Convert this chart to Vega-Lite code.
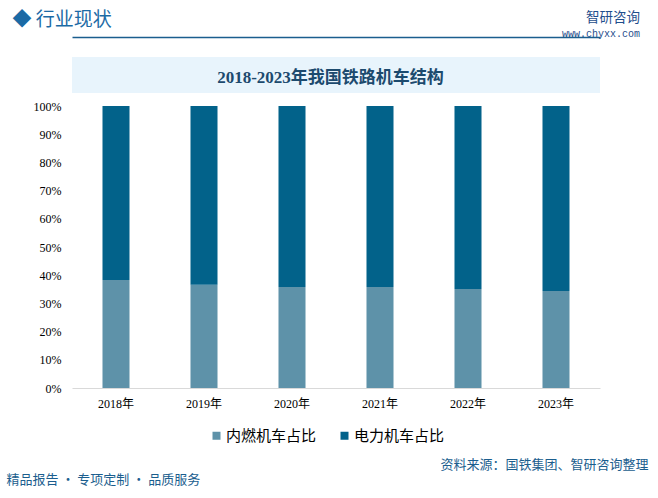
{
  "$schema": "https://vega.github.io/schema/vega-lite/v6.json",
  "width": 528,
  "height": 282,
  "autosize": {"type": "none"},
  "padding": {"left": 72, "top": 106, "right": 58, "bottom": 110},
  "background": "white",
  "config": {"view": {"stroke": null}},
  "title": {
    "text": "智研咨询",
    "subtitle": "www.chyxx.com",
    "anchor": "end",
    "frame": "group",
    "font": "Noto Sans CJK SC",
    "fontSize": 13.5,
    "fontWeight": "normal",
    "color": "#1f4e8c",
    "subtitleFont": "Liberation Mono",
    "subtitleFontSize": 10,
    "subtitleColor": "#1f4e8c",
    "subtitlePadding": 5,
    "dx": 40,
    "dy": 33
  },
  "data": {
    "values": [
      {"year": "2018年", "type": "内燃机车占比", "share": 0.383},
      {"year": "2018年", "type": "电力机车占比", "share": 0.617},
      {"year": "2019年", "type": "内燃机车占比", "share": 0.366},
      {"year": "2019年", "type": "电力机车占比", "share": 0.634},
      {"year": "2020年", "type": "内燃机车占比", "share": 0.358},
      {"year": "2020年", "type": "电力机车占比", "share": 0.642},
      {"year": "2021年", "type": "内燃机车占比", "share": 0.358},
      {"year": "2021年", "type": "电力机车占比", "share": 0.642},
      {"year": "2022年", "type": "内燃机车占比", "share": 0.351},
      {"year": "2022年", "type": "电力机车占比", "share": 0.649},
      {"year": "2023年", "type": "内燃机车占比", "share": 0.344},
      {"year": "2023年", "type": "电力机车占比", "share": 0.656}
    ]
  },
  "layer": [
    {
      "data": {"values": [{"band": "title"}]},
      "mark": {"type": "rect", "color": "#e8f4fc", "clip": false},
      "encoding": {
        "y": {"datum": 1.174, "type": "quantitative", "scale": {"domain": [0, 1]}, "axis": null},
        "y2": {"datum": 1.046}
      }
    },
    {
      "mark": {"type": "bar"},
      "encoding": {
        "x": {
          "field": "year",
          "type": "nominal",
          "scale": {"paddingInner": 0.693, "paddingOuter": 0.3465},
          "axis": {
            "orient": "bottom",
            "labelAngle": 0,
            "labelFont": "Liberation Serif, Noto Sans CJK SC",
            "labelFontSize": 12,
            "labelColor": "#000000",
            "labelPadding": 10,
            "ticks": false,
            "domainColor": "#d9d9d9",
            "title": "资料来源：国铁集团、智研咨询整理",
            "titleFont": "Noto Sans CJK SC",
            "titleFontSize": 13,
            "titleFontWeight": "normal",
            "titleColor": "#1b5e8e",
            "titleAlign": "right",
            "titleBaseline": "alphabetic",
            "titleAnchor": null,
            "titleX": 576,
            "titleY": 80
          }
        },
        "y": {
          "field": "share",
          "type": "quantitative",
          "stack": "zero",
          "scale": {"domain": [0, 1]},
          "axis": {
            "orient": "left",
            "values": [0, 0.1, 0.2, 0.3, 0.4, 0.5, 0.6, 0.7, 0.8, 0.9, 1],
            "format": ".0%",
            "labelFont": "Liberation Serif",
            "labelFontSize": 12,
            "labelColor": "#000000",
            "labelPadding": 11,
            "ticks": false,
            "domain": false,
            "grid": false,
            "title": "◆ 行业现状",
            "titleFont": "Noto Sans CJK SC",
            "titleFontSize": 19,
            "titleFontWeight": "normal",
            "titleColor": "#1b6aa5",
            "titleAngle": 0,
            "titleAlign": "left",
            "titleBaseline": "alphabetic",
            "titleAnchor": null,
            "titleX": -60,
            "titleY": -81
          }
        },
        "color": {
          "field": "type",
          "type": "nominal",
          "scale": {"domain": ["内燃机车占比", "电力机车占比"], "range": ["#5e92a9", "#02628a"]},
          "legend": {
            "orient": "none",
            "legendX": 137,
            "legendY": 322,
            "direction": "horizontal",
            "title": null,
            "symbolType": "square",
            "symbolSize": 64,
            "symbolStrokeWidth": 0,
            "labelFont": "Noto Sans CJK SC",
            "labelFontSize": 15,
            "labelColor": "#000000",
            "labelOffset": 2,
            "columnPadding": 20
          }
        },
        "order": {"field": "type", "sort": "ascending"}
      }
    },
    {
      "mark": {"type": "bar", "opacity": 0},
      "encoding": {
        "x": {
          "field": "year",
          "type": "nominal",
          "axis": {
            "orient": "top",
            "offset": 69,
            "zindex": 1,
            "labels": false,
            "ticks": false,
            "domain": true,
            "domainColor": "#1b5e8e",
            "domainWidth": 1.5,
            "title": "2018-2023年我国铁路机车结构",
            "titleFont": "Liberation Serif, Noto Sans CJK SC",
            "titleFontSize": 17,
            "titleFontWeight": "bold",
            "titleColor": "#1c4a6e",
            "titleAlign": "center",
            "titleBaseline": "alphabetic",
            "titleAnchor": null,
            "titleX": 258,
            "titleY": 45
          }
        },
        "y": {
          "field": "share",
          "type": "quantitative",
          "stack": "zero",
          "axis": {
            "orient": "right",
            "labels": false,
            "ticks": false,
            "domain": false,
            "grid": false,
            "title": "精品报告 · 专项定制 · 品质服务",
            "titleFont": "Noto Sans CJK SC",
            "titleFontSize": 13,
            "titleFontWeight": "normal",
            "titleColor": "#1b5e8e",
            "titleAngle": 0,
            "titleAlign": "left",
            "titleBaseline": "alphabetic",
            "titleAnchor": null,
            "titleX": -594,
            "titleY": 377
          }
        }
      }
    }
  ],
  "resolve": {"axis": {"x": "independent", "y": "independent"}}
}
